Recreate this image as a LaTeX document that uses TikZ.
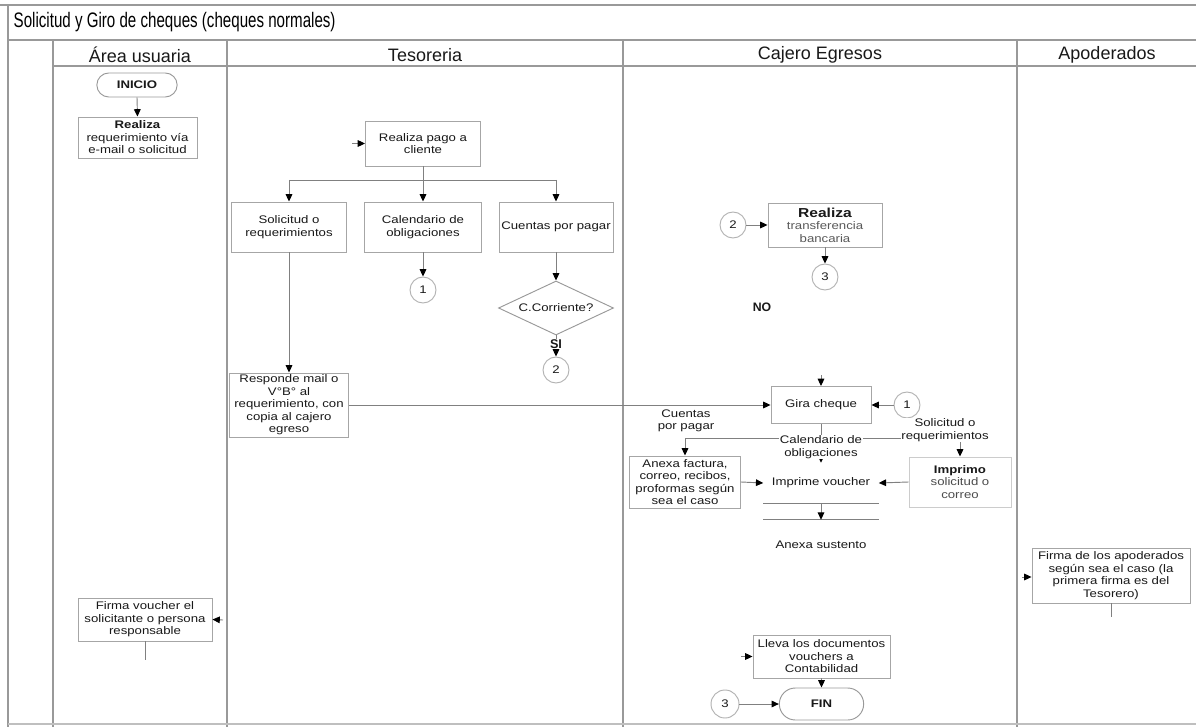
\documentclass[tikz,border=0pt]{standalone}
\usepackage{fontspec}
\setmainfont{Liberation Sans}
\newfontfamily\boxfont[FakeStretch=1.2]{Liberation Sans}
\newfontfamily\titlefont[FakeStretch=0.72]{Liberation Sans}
\usetikzlibrary{arrows.meta,shapes.geometric,shapes.misc}

\begin{document}
\begin{tikzpicture}[x=0.75pt,y=-0.75pt,
  lane/.style={draw=black!40, line width=1.1pt},
  sz/.style 2 args={minimum width={#1*0.75pt}, minimum height={#2*0.75pt}},
  txt/.style={font=\boxfont\fontsize{8.25}{9.4}\selectfont, text=black!90, align=center, inner sep=1pt},
  box/.style={txt, draw=black!35, line width=0.7pt, fill=white},
  conn/.style={circle, txt, draw=black!30, line width=0.7pt, fill=white, minimum size={26*0.75pt}, inner sep=0pt},
  term/.style={rounded rectangle, txt, draw=black!40, line width=0.7pt, fill=white},
  dec/.style={diamond, txt, draw=black!40, line width=0.7pt, fill=white, inner sep=0pt, aspect=2.1},
  flow/.style={draw=black!50, line width=0.7pt, -{Triangle[length=5.5pt,width=5pt,color=black]}},
  plain/.style={draw=black!50, line width=0.7pt},
  head/.style={font=\fontsize{13.5}{16}\selectfont, text=black!90},
  tag/.style={txt, fill=white, inner sep=0.5pt}
]
\useasboundingbox (0,0) rectangle (1196,727);
\fill[white] (0,0) rectangle (1196,727);

% frame, title row and swimlanes
\draw[lane] (0,5) -- (1196,5);
\draw[lane] (8,40) -- (1196,40);
\draw[lane] (53,66) -- (1196,66);
\draw[lane] (8,5) -- (8,727);
\foreach \x in {53,227,623,1017} \draw[lane] (\x,40) -- (\x,727);
\draw[draw=black!25, line width=0.8pt] (8,724) -- (1196,724);

\node[anchor=west, font=\titlefont\fontsize{15.75}{18}\selectfont, text=black] (title) at (9,22) {Solicitud y Giro de cheques (cheques normales)};
\node[head] (hArea) at (140,55) {Área usuaria};
\node[head] (hTes) at (425,55) {Tesoreria};
\node[head] (hCaj) at (820,55) {Cajero Egresos};
\node[head] (hApo) at (1107,55) {Apoderados};

% ---- Área usuaria
\node[term, sz={83}{24}, font=\boxfont\bfseries\fontsize{8.25}{9.4}\selectfont] (inicio) at (137,85) {INICIO};
\node[box, sz={119}{41}] (req) at (137.5,137.5) {\textbf{Realiza}\\requerimiento vía\\e-mail o solicitud};
\draw[flow] (inicio.south) -- (req.north);

\node[box, sz={134}{43}] (firmaV) at (145,619.5) {Firma voucher el\\solicitante o persona\\responsable};
\coordinate (fvIn) at (223,620);
\coordinate (fvOut) at (145,660);
\draw[flow] (fvIn) -- (firmaV.east);
\draw[plain] (firmaV.south) -- (fvOut);

% ---- Tesoreria
\node[box, sz={115}{45}] (pago) at (423,143.5) {Realiza pago a\\cliente};
\coordinate (pagoIn) at (352,143.5);
\draw[flow] (pagoIn) -- (pago.west);

\node[box, sz={115}{50}] (solic) at (289,227) {Solicitud o\\requerimientos};
\node[box, sz={117}{50}] (calend) at (423,227) {Calendario de\\obligaciones};
\node[box, sz={114}{50}] (cuentas) at (556,227) {Cuentas por pagar};

\coordinate (busL) at (289,180);
\coordinate (busR) at (556,180);
\draw[plain] (pago.south) -- (pago.south |- busL);
\draw[plain] (busL) -- (busR);
\draw[flow] (busL) -- (solic.north);
\draw[flow] (busL -| calend) -- (calend.north);
\draw[flow] (busR) -- (cuentas.north);

\node[conn] (c1) at (423,290) {1};
\draw[flow] (calend.south) -- (c1.north);

\node[dec, sz={115}{54}] (cc) at (556,308) {C.Corriente?};
\draw[flow] (cuentas.south) -- (cc.north);
\node[conn] (c2a) at (556,370) {2};
\draw[flow] (cc.south) -- (c2a.north);
\node[tag, font=\bfseries\fontsize{9.5}{11}\selectfont] (si) at (556,344) {SI};

\node[box, sz={119}{64}] (resp) at (289,405) {Responde mail o\\V°B° al\\requerimiento, con\\copia al cajero\\egreso};
\draw[flow] (solic.south) -- (resp.north);

% ---- Cajero Egresos
\node[box, sz={114}{44}] (transf) at (825,225) {{\bfseries\fontsize{9.75}{11}\selectfont Realiza}\\\textcolor{black!65}{transferencia}\\\textcolor{black!65}{bancaria}};
\node[conn] (c2b) at (733,225) {2};
\node[conn] (c3a) at (825,277) {3};
\draw[flow] (c2b.east) -- (transf.west);
\draw[flow] (transf.south) -- (c3a.north);
\node[txt, font=\bfseries\fontsize{9.2}{11}\selectfont] (no) at (762,307) {NO};

\node[box, sz={100}{37}] (gira) at (821,405) {Gira cheque};
\coordinate (giraIn) at (821,375);
\draw[flow] (giraIn) -- (gira.north);
\draw[flow] (resp.east) -- (gira.west);
\node[conn] (c1b) at (907,405) {1};
\draw[flow] (c1b.west) -- (gira.east);

\node[box, sz={111}{52}] (anexa) at (685,482) {Anexa factura,\\correo, recibos,\\proformas según\\sea el caso};
\node[txt, sz={115}{40}] (imprime) at (821,483) {Imprime voucher};
\node[box, sz={102}{50}, draw=black!20] (imprimo) at (960,482) {\textbf{Imprimo}\\\textcolor{black!70}{solicitud o}\\\textcolor{black!70}{correo}};
\draw[plain] (imprime.south west) -- (imprime.south east);

\coordinate (bus2L) at (685,438);
\coordinate (bus2R) at (960,438);
\draw[plain] (gira.south) -- (gira.south |- bus2L);
\draw[plain] (bus2L) -- (bus2R);
\draw[flow] (bus2L) -- (anexa.north);
\draw[flow] (bus2L -| imprime) -- (imprime.north);
\draw[flow] (bus2R) -- (imprimo.north);
\node[tag] (lCtas) at (686,421) {Cuentas\\por pagar};
\node[tag] (lCal) at (821,447) {Calendario de\\obligaciones};
\node[tag] (lSol) at (945,430) {Solicitud o\\requerimientos};

\draw[flow] (anexa.east) -- (imprime.west);
\draw[flow] (imprimo.west) -- (imprime.east);

\node[txt, sz={115}{50}] (sust) at (821,545) {Anexa sustento};
\draw[plain] (sust.north west) -- (sust.north east);
\draw[flow] (imprime.south) -- (sust.north);

\node[box, sz={137}{43}] (lleva) at (821.5,656.5) {Lleva los documentos\\vouchers a\\Contabilidad};
\coordinate (llevaIn) at (741,656.5);
\draw[flow] (llevaIn) -- (lleva.west);
\node[term, sz={87}{32}, font=\boxfont\bfseries\fontsize{8.25}{9.4}\selectfont] (fin) at (821.5,704) {FIN};
\draw[flow] (lleva.south) -- (fin.north);
\node[conn, minimum size={28*0.75pt}] (c3b) at (725,704) {3};
\draw[flow] (c3b.east) -- (fin.west);

% ---- Apoderados
\node[box, sz={158}{55}] (firmaAp) at (1111,575.5) {Firma de los apoderados\\según sea el caso (la\\primera firma es del\\Tesorero)};
\coordinate (apIn) at (1022,577);
\coordinate (apOut) at (1111,617);
\draw[flow] (apIn) -- (firmaAp.west |- apIn);
\draw[plain] (firmaAp.south) -- (apOut);
\end{tikzpicture}
\end{document}
